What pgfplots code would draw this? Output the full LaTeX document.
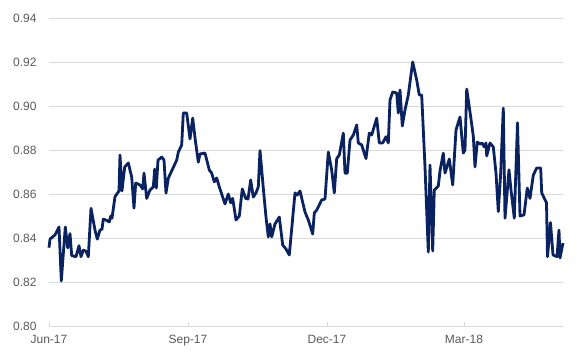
\documentclass[border=0pt]{standalone}
\usepackage{pgfplots}
\pgfplotsset{compat=1.18}
\usepackage{fontspec}
\setmainfont{Liberation Sans}
\definecolor{navy}{HTML}{0A2260}
\definecolor{gridc}{HTML}{D9D9D9}
\definecolor{labc}{HTML}{595959}
\begin{document}
\begin{tikzpicture}
\begin{axis}[
  name=ax,
  scale only axis,
  width=514pt, height=308pt,
  xmin=49, xmax=563,
  ymin=0.80, ymax=0.94,
  ytick={0.80,0.82,0.84,0.86,0.88,0.90,0.92,0.94},
  xtick={49,188,327,464},
  xticklabels={Jun-17,Sep-17,Dec-17,Mar-18},
  ymajorgrids,
  grid style={gridc, line width=0.8pt},
  axis x line*=bottom,
  axis y line*=left,
  x axis line style={draw=gridc, line width=0.8pt, -},
  y axis line style={draw=none},
  y tick style={draw=none},
  x tick style={draw=gridc, line width=0.8pt},
  major tick length=4pt,
  tick align=inside,
  every tick label/.append style={font=\fontsize{12}{14}\selectfont, text=labc},
  yticklabel style={/pgf/number format/fixed, /pgf/number format/precision=2, /pgf/number format/fixed zerofill, /pgf/number format/assume math mode=true, xshift=-9pt},
  xticklabel style={yshift=-6pt},
  clip=false,
]
\addplot[navy, line width=2.8pt, line join=round, no markers] coordinates {
(49,0.8356)(50,0.8395)(55,0.8414)(59,0.845)(61.3,0.8205)(65.3,0.845)(67.7,0.8355)(70,0.842)(71.7,0.832)(76,0.8315)(79,0.8365)(81,0.8315)(83.3,0.8345)(86,0.834)(88.3,0.8315)(91,0.8535)(95,0.8436)(97.3,0.8395)(100,0.8436)(102,0.844)(103.3,0.8486)(106.7,0.848)(109.3,0.8473)(110.7,0.85)(112,0.849)(115,0.8588)(119,0.8614)(120,0.8777)(122,0.8614)(124.7,0.8723)(128.3,0.8741)(131.7,0.8677)(134,0.8536)(135.7,0.865)(140,0.8641)(142.7,0.8623)(144,0.8695)(146.7,0.858)(150,0.8618)(153.3,0.8632)(154.7,0.8713)(156.3,0.8627)(158,0.8754)(161.7,0.8768)(164,0.8754)(166,0.8604)(168.3,0.8672)(176.7,0.8754)(178.3,0.879)(181.7,0.8823)(183.3,0.8968)(186.7,0.8968)(190,0.885)(192.7,0.8945)(195.3,0.8845)(198.3,0.8745)(200,0.8782)(205,0.8786)(209.3,0.8709)(211.7,0.8695)(214.3,0.8655)(216.7,0.8673)(219.3,0.8632)(225,0.8555)(228.3,0.86)(230.7,0.856)(232.7,0.858)(236,0.8482)(239.3,0.85)(242.3,0.8623)(245.7,0.858)(248,0.8577)(250.7,0.8664)(253.3,0.8586)(256,0.8605)(258.3,0.8632)(260,0.8797)(263.3,0.8627)(266,0.8495)(268.3,0.8405)(270,0.8464)(271.7,0.8405)(275,0.8464)(279.3,0.8495)(282.7,0.8368)(286,0.835)(289.3,0.8323)(295,0.8605)(297.3,0.8595)(300,0.8614)(305,0.8518)(308.3,0.8482)(312.7,0.8418)(314.3,0.8514)(316.7,0.8527)(321.7,0.8573)(325,0.8577)(328.3,0.8791)(331.7,0.8709)(334.3,0.8605)(336.7,0.8761)(339.3,0.8777)(343.3,0.8877)(345,0.8695)(347.3,0.8695)(350,0.8845)(353.3,0.8868)(356.7,0.8914)(358.3,0.8832)(361.7,0.8823)(366,0.8761)(369.3,0.8877)(371.7,0.8868)(376.7,0.8945)(379.3,0.8832)(382.7,0.8832)(386,0.886)(388.3,0.8832)(390,0.9027)(392.7,0.9064)(396.7,0.9059)(398.3,0.8968)(400,0.9073)(402.3,0.8909)(405,0.8982)(408.3,0.905)(412.7,0.92)(416.7,0.9118)(419.3,0.905)(421.7,0.905)(425,0.8723)(428.3,0.8336)(430,0.8732)(432.7,0.8341)(434.3,0.8618)(438.3,0.8636)(440,0.8705)(443.3,0.8786)(445,0.8695)(449.3,0.8759)(452.7,0.8641)(456,0.8891)(460,0.895)(463.3,0.8786)(465,0.88)(466.7,0.9077)(470.7,0.895)(473.3,0.8864)(475,0.8723)(477.3,0.8836)(480,0.8827)(482,0.8832)(484.3,0.8814)(486,0.8832)(486.7,0.8773)(490,0.8832)(493.3,0.8814)(496,0.8695)(498.3,0.852)(500.7,0.8695)(503.3,0.899)(505,0.849)(509,0.871)(511,0.8618)(514.3,0.849)(517.5,0.8924)(520,0.85)(524,0.8505)(527.3,0.8627)(530,0.858)(533.3,0.8686)(536.7,0.8718)(540.7,0.8718)(541.7,0.8605)(546.5,0.856)(547.5,0.8315)(550.5,0.847)(553,0.8323)(557,0.8315)(559,0.8436)(560,0.8309)(563,0.8377)
};
\end{axis}
\pgfresetboundingbox
\path[use as bounding box] (ax.south west) ++(-49pt,-34pt) rectangle ++(582pt,360pt);
\end{tikzpicture}
\end{document}
